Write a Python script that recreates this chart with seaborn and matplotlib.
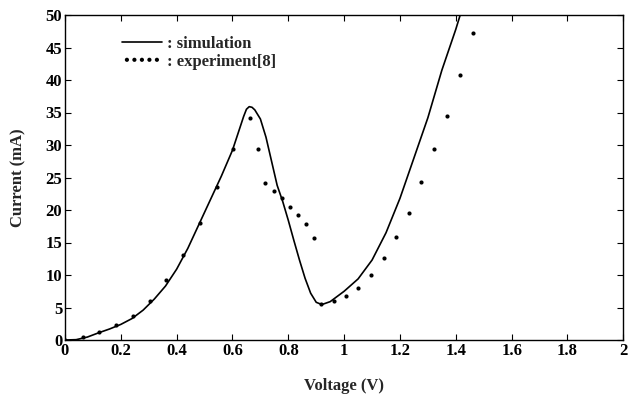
import pandas as pd
import matplotlib
matplotlib.use("Agg")
import matplotlib.pyplot as plt
import seaborn as sns

# -----------------------------
# Data
# -----------------------------
sim_voltage = [0.00, 0.04, 0.08, 0.12, 0.16, 0.20, 0.24, 0.28, 0.32, 0.36,
               0.40, 0.44, 0.48, 0.52, 0.56, 0.60, 0.62, 0.64, 0.65, 0.66,
               0.67, 0.68, 0.70, 0.72, 0.74, 0.76, 0.78, 0.80, 0.82, 0.84,
               0.86, 0.88, 0.90, 0.92, 0.95, 1.00, 1.05, 1.10, 1.15, 1.20,
               1.25, 1.30, 1.35, 1.40, 1.43]
sim_current = [0.0, 0.05, 0.45, 1.1, 1.7, 2.4, 3.3, 4.6, 6.3, 8.3,
               10.9, 14.1, 17.8, 21.5, 25.2, 29.2, 31.8, 34.4, 35.5, 35.9,
               35.8, 35.4, 34.0, 31.2, 27.5, 23.8, 21.3, 18.4, 15.3, 12.3,
               9.5, 7.2, 5.8, 5.45, 5.9, 7.5, 9.4, 12.3, 16.5, 21.8,
               28.0, 34.2, 41.5, 47.8, 52.0]

exp_voltage = [0.0, 0.066, 0.123, 0.182, 0.245, 0.305, 0.363, 0.422, 0.485,
               0.545, 0.601, 0.661, 0.690, 0.718, 0.748, 0.776, 0.805, 0.834,
               0.863, 0.892, 0.918, 0.963, 1.008, 1.051, 1.096, 1.142, 1.187,
               1.233, 1.277, 1.321, 1.368, 1.414, 1.460]
exp_current = [0.0, 0.5, 1.2, 2.3, 3.7, 6.0, 9.3, 13.1, 18.0,
               23.6, 29.4, 34.2, 29.4, 24.2, 22.9, 21.8, 20.5, 19.2,
               17.8, 15.7, 5.6, 6.0, 6.8, 8.0, 10.0, 12.6, 15.8,
               19.6, 24.3, 29.4, 34.4, 40.8, 47.2]

df_sim = pd.DataFrame({"Voltage": sim_voltage, "Current": sim_current})
df_exp = pd.DataFrame({"Voltage": exp_voltage, "Current": exp_current})

# -----------------------------
# Style
# -----------------------------
sns.set_style("ticks")
plt.rcParams["font.family"] = ["Liberation Serif", "DejaVu Serif"]
plt.rcParams["font.weight"] = "bold"

fig = plt.figure(figsize=(6.28, 4.00), dpi=100)
ax = fig.add_axes([0.1035, 0.15, 0.889, 0.8125])

sns.lineplot(x="Voltage", y="Current", data=df_sim, color="black",
             linewidth=1.2, ax=ax, label=": simulation", sort=False)
sns.scatterplot(x="Voltage", y="Current", data=df_exp, color="black",
                s=9, edgecolor="black", linewidth=0, ax=ax,
                label=": experiment[8]")

ax.set_xlim(0, 2)
ax.set_ylim(0, 50)
ax.set_xticks([0, 0.2, 0.4, 0.6, 0.8, 1, 1.2, 1.4, 1.6, 1.8, 2])
ax.set_xticklabels(["0", "0.2", "0.4", "0.6", "0.8", "1", "1.2", "1.4",
                    "1.6", "1.8", "2"])
ax.set_yticks(range(0, 51, 5))
ax.tick_params(direction="in", top=True, right=True, length=4, width=0.8,
               labelsize=12, colors="black", pad=2)
for side in ax.spines.values():
    side.set_linewidth(1.0)
    side.set_color("black")

ax.set_xlabel("Voltage (V)", fontsize=12, fontweight="bold", labelpad=14)
ax.set_ylabel("Current (mA)", fontsize=12, fontweight="bold", labelpad=14)

ax.legend(loc="upper left", bbox_to_anchor=(0.09, 0.955), frameon=False,
          scatterpoints=5, scatteryoffsets=[0.5], fontsize=12,
          handlelength=2.4, handletextpad=0.3, labelspacing=0.08,
          borderaxespad=0)

plt.savefig("out.png", dpi=100)
plt.close()
